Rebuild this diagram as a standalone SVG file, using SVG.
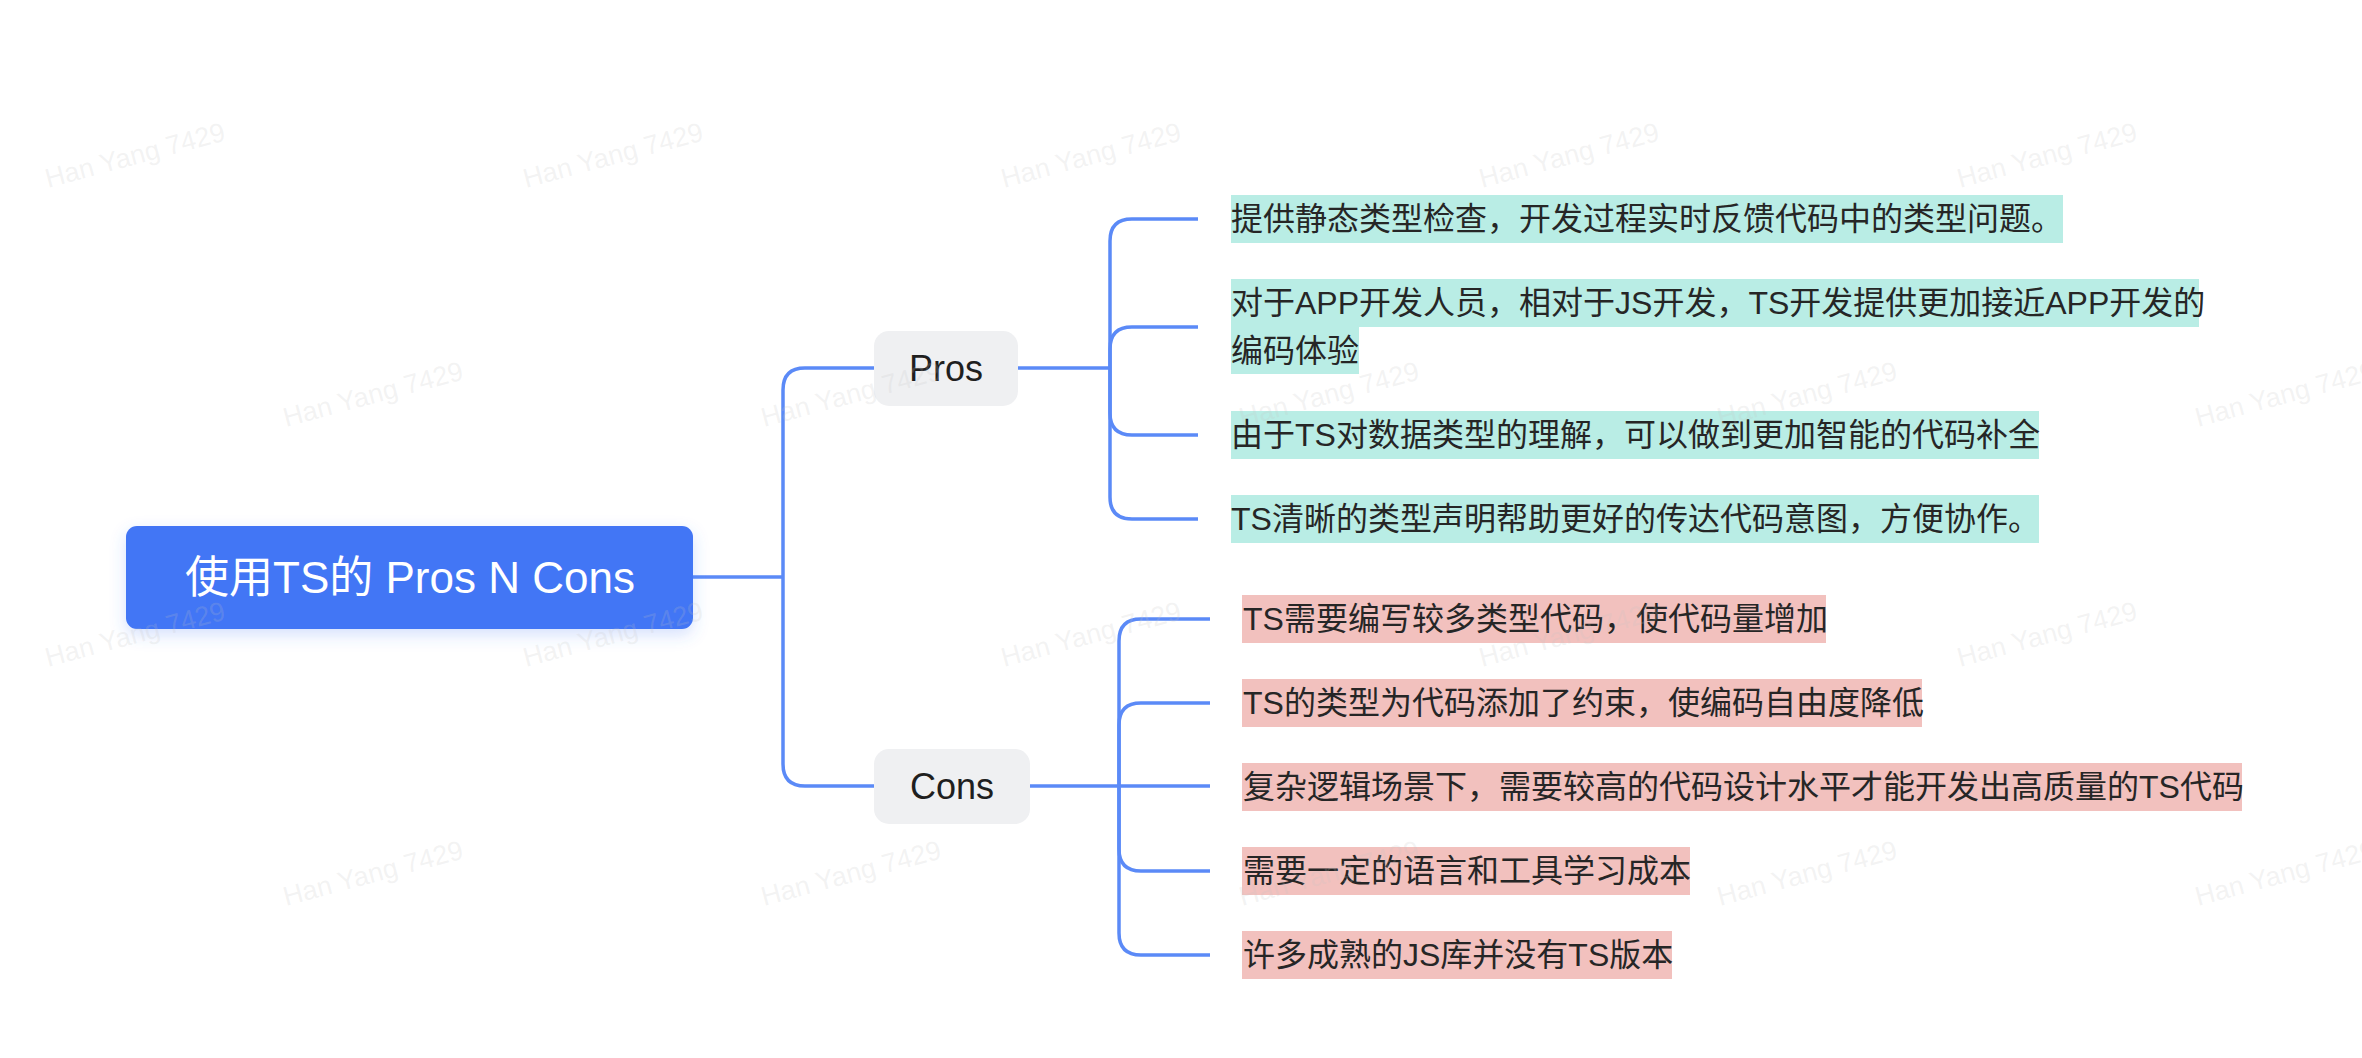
<svg xmlns="http://www.w3.org/2000/svg" width="2362" height="1058" viewBox="0 0 2362 1058">
<defs>
<style>
.f{font-family:"Liberation Sans","Noto Sans CJK SC",sans-serif}
.conn path{fill:none;stroke:#5B8AF7;stroke-width:3.5;stroke-linecap:butt}
.leaf{font-size:32px;fill:#262626}
.pro{fill:#B9EDE5}
.con{fill:#F2C1BE}
.mid rect{fill:#EFF0F2}
.mid text{font-size:36px;fill:#1f1f1f;text-anchor:middle}
.wm text{font-size:27px;fill:#c4c4c4;fill-opacity:0.2}
</style>
<filter id="sh" x="-10%" y="-30%" width="120%" height="170%">
<feDropShadow dx="0" dy="6" stdDeviation="8" flood-color="#4276F5" flood-opacity="0.22"/>
</filter>
</defs>
<rect width="2362" height="1058" fill="#ffffff"/>
<g id="connectors" class="conn">
<path d="M693,577 H783"/>
<path d="M783,577 V390 Q783,368 805,368 H874"/>
<path d="M783,577 V764 Q783,786 805,786 H874"/>
<path d="M1018,368 H1110"/>
<path d="M1110,368 V241 Q1110,219 1132,219 H1198"/>
<path d="M1110,368 V349 Q1110,327 1132,327 H1198"/>
<path d="M1110,368 V413 Q1110,435 1132,435 H1198"/>
<path d="M1110,368 V497 Q1110,519 1132,519 H1198"/>
<path d="M1030,786 H1119"/>
<path d="M1119,786 V641 Q1119,619 1141,619 H1210"/>
<path d="M1119,786 V725 Q1119,703 1141,703 H1210"/>
<path d="M1119,786 H1210"/>
<path d="M1119,786 V849 Q1119,871 1141,871 H1210"/>
<path d="M1119,786 V933 Q1119,955 1141,955 H1210"/>
</g>
<g id="root">
<rect x="126" y="526" width="567" height="103" rx="11" fill="#4276F5" filter="url(#sh)"/>
<text class="f" x="410" y="593" font-size="44" fill="#ffffff" text-anchor="middle">使用TS的 Pros N Cons</text>
</g>
<g id="pros" class="mid">
<rect x="874" y="331" width="144" height="75" rx="15"/>
<text class="f" x="946" y="381">Pros</text>
</g>
<g id="cons" class="mid">
<rect x="874" y="749" width="156" height="75" rx="15"/>
<text class="f" x="952" y="799">Cons</text>
</g>
<g id="pro1">
<rect class="pro" x="1231" y="195" width="832" height="48"/>
<text class="f leaf" x="1231" y="230">提供静态类型检查，开发过程实时反馈代码中的类型问题。</text>
</g>
<g id="pro2">
<rect class="pro" x="1231" y="279" width="968" height="48"/>
<rect class="pro" x="1231" y="327" width="128" height="47"/>
<text class="f leaf" x="1231" y="314">对于APP开发人员，相对于JS开发，TS开发提供更加接近APP开发的</text>
<text class="f leaf" x="1231" y="362">编码体验</text>
</g>
<g id="pro3">
<rect class="pro" x="1231" y="411" width="808" height="48"/>
<text class="f leaf" x="1231" y="446">由于TS对数据类型的理解，可以做到更加智能的代码补全</text>
</g>
<g id="pro4">
<rect class="pro" x="1231" y="495" width="808" height="48"/>
<text class="f leaf" x="1231" y="530">TS清晰的类型声明帮助更好的传达代码意图，方便协作。</text>
</g>
<g id="con1">
<rect class="con" x="1242" y="595" width="584" height="48"/>
<text class="f leaf" x="1243" y="630">TS需要编写较多类型代码，使代码量增加</text>
</g>
<g id="con2">
<rect class="con" x="1242" y="679" width="680" height="48"/>
<text class="f leaf" x="1243" y="714">TS的类型为代码添加了约束，使编码自由度降低</text>
</g>
<g id="con3">
<rect class="con" x="1242" y="763" width="1000" height="48"/>
<text class="f leaf" x="1243" y="798">复杂逻辑场景下，需要较高的代码设计水平才能开发出高质量的TS代码</text>
</g>
<g id="con4">
<rect class="con" x="1242" y="847" width="448" height="48"/>
<text class="f leaf" x="1243" y="882">需要一定的语言和工具学习成本</text>
</g>
<g id="con5">
<rect class="con" x="1242" y="931" width="430" height="48"/>
<text class="f leaf" x="1243" y="966">许多成熟的JS库并没有TS版本</text>
</g>
<g id="watermarks" class="wm f">
<text x="48" y="188" transform="rotate(-15 48 188)">Han Yang 7429</text>
<text x="526" y="188" transform="rotate(-15 526 188)">Han Yang 7429</text>
<text x="1004" y="188" transform="rotate(-15 1004 188)">Han Yang 7429</text>
<text x="1482" y="188" transform="rotate(-15 1482 188)">Han Yang 7429</text>
<text x="1960" y="188" transform="rotate(-15 1960 188)">Han Yang 7429</text>
<text x="286" y="427" transform="rotate(-15 286 427)">Han Yang 7429</text>
<text x="764" y="427" transform="rotate(-15 764 427)">Han Yang 7429</text>
<text x="1242" y="427" transform="rotate(-15 1242 427)">Han Yang 7429</text>
<text x="1720" y="427" transform="rotate(-15 1720 427)">Han Yang 7429</text>
<text x="2198" y="427" transform="rotate(-15 2198 427)">Han Yang 7429</text>
<text x="48" y="667" transform="rotate(-15 48 667)">Han Yang 7429</text>
<text x="526" y="667" transform="rotate(-15 526 667)">Han Yang 7429</text>
<text x="1004" y="667" transform="rotate(-15 1004 667)">Han Yang 7429</text>
<text x="1482" y="667" transform="rotate(-15 1482 667)">Han Yang 7429</text>
<text x="1960" y="667" transform="rotate(-15 1960 667)">Han Yang 7429</text>
<text x="286" y="906" transform="rotate(-15 286 906)">Han Yang 7429</text>
<text x="764" y="906" transform="rotate(-15 764 906)">Han Yang 7429</text>
<text x="1242" y="906" transform="rotate(-15 1242 906)">Han Yang 7429</text>
<text x="1720" y="906" transform="rotate(-15 1720 906)">Han Yang 7429</text>
<text x="2198" y="906" transform="rotate(-15 2198 906)">Han Yang 7429</text>
</g>
</svg>
